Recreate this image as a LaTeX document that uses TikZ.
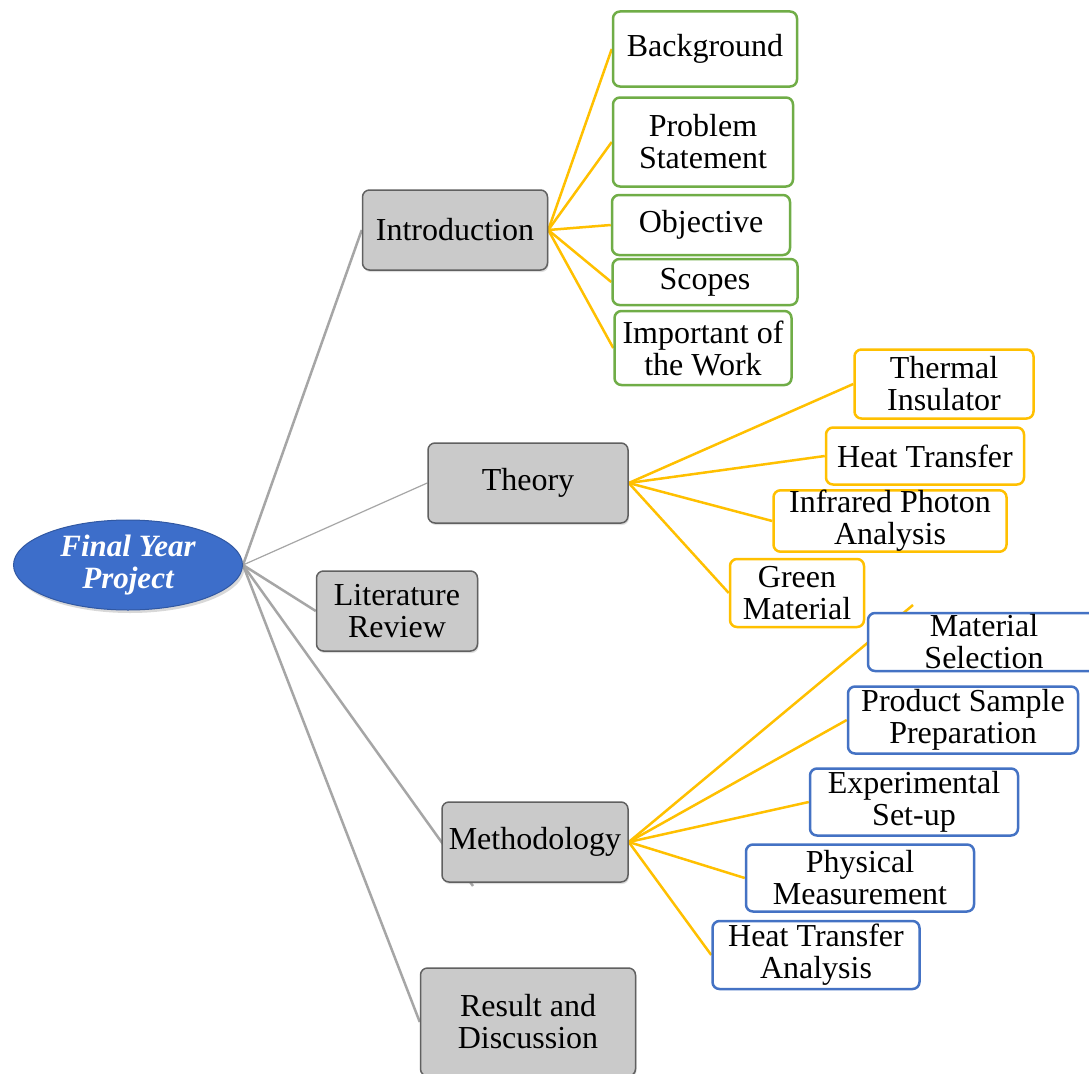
\documentclass[tikz,border=0pt]{standalone}
\usepackage{fontspec}
\setmainfont{Liberation Serif}
\usetikzlibrary{shapes.geometric,shadows}
\definecolor{Leaf}{HTML}{70AD47}
\definecolor{Gold}{HTML}{FFC000}
\definecolor{Navy}{HTML}{4472C4}
\definecolor{Stem}{HTML}{A6A6A6}
\definecolor{Slate}{HTML}{CACACA}
\definecolor{Royal}{HTML}{3D6ECA}
\pgfdeclarelayer{back}
\pgfsetlayers{back,main}
\tikzset{
  topic/.style={draw=gray!75!black,fill=Slate,rounded corners=7pt,line width=1.5pt,
    align=center,inner sep=0pt,drop shadow={opacity=.25,shadow xshift=1pt,shadow yshift=-2pt}},
  leafbox/.style={fill=white,rounded corners=7pt,line width=2.5pt,align=center,inner sep=0pt},
  introbox/.style={leafbox,draw=Leaf},
  theorybox/.style={leafbox,draw=Gold},
  methbox/.style={leafbox,draw=Navy},
  stem/.style={Stem,line width=2.5pt},
  twig/.style={Gold,line width=2.5pt}
}

\begin{document}
\begin{tikzpicture}[x=1pt,y=-1pt,font=\fontsize{32}{32}\selectfont]
  \useasboundingbox(0,0)rectangle(1089,1073);
  % root
  \node[ellipse,fill=Royal,draw=Royal!80!black,line width=1pt,text=white,align=center,
    minimum width=229pt,minimum height=90pt,inner sep=0pt,font=\fontsize{31}{32}\selectfont\bfseries\itshape,
    drop shadow={opacity=.3,shadow xshift=2pt,shadow yshift=-3pt}](fyp)at(128,565){Final Year\\Project};
  % main topics
  \node[topic,minimum width=185pt,minimum height=80pt](intro)at(455,230){Introduction};
  \node[topic,minimum width=200pt,minimum height=80pt](theory)at(528,483){Theory};
  \node[topic,minimum width=161pt,minimum height=80pt](lit)at(397,611){Literature\\Review};
  \node[topic,minimum width=186pt,minimum height=80pt](meth)at(535,842){Methodology};
  \node[topic,minimum width=215pt,minimum height=108pt](rd)at(528,1022){Result and\\Discussion};
  % introduction
  \node[introbox,minimum width=184pt,minimum height=75pt](bg)at(705,49){Background};
  \node[introbox,minimum width=180pt,minimum height=89pt](prob)at(703,142){Problem\\Statement};
  \node[introbox,minimum width=178pt,minimum height=60pt](obj)at(701,225){Objective};
  \node[introbox,minimum width=185pt,minimum height=46pt](scope)at(705,282){Scopes};
  \node[introbox,minimum width=177pt,minimum height=74pt](imp)at(703,348){Important of\\the Work};
  % theory
  \node[theorybox,minimum width=179pt,minimum height=69pt](ins)at(944,384){Thermal\\Insulator};
  \node[theorybox,minimum width=198pt,minimum height=57pt](heat)at(925,456){Heat Transfer};
  \node[theorybox,minimum width=233pt,minimum height=61pt](ir)at(890,521){Infrared Photon\\Analysis};
  \node[theorybox,minimum width=134pt,minimum height=68pt](green)at(797,593){Green\\Material};
  % methodology
  \node[methbox,minimum width=232pt,minimum height=58pt](sel)at(984,642){Material\\Selection};
  \node[methbox,minimum width=230pt,minimum height=67pt](prep)at(963,720){Product Sample\\Preparation};
  \node[methbox,minimum width=208pt,minimum height=67pt](setup)at(914,802){Experimental\\Set-up};
  \node[methbox,minimum width=228pt,minimum height=67pt](phys)at(860,878){Physical\\Measurement};
  \node[methbox,minimum width=207pt,minimum height=68pt](hta)at(816,955){Heat Transfer\\Analysis};
  \coordinate(methtail)at(473,886);
  \coordinate(seltail)at(913,605);
  \begin{pgfonlayer}{back}
    \fill[white](0,0)rectangle(1089,1073);
    \draw[stem](fyp.east)--(intro.west);
    \draw[Stem,line width=1.2pt](fyp.east)--(theory.west);
    \draw[stem](fyp.east)--(lit.west);
    \draw[stem](fyp.east)--(methtail);
    \draw[stem](fyp.east)--(rd.west);
    \foreach \n in {bg,prob,obj,scope,imp}\draw[twig](intro.east)--(\n.west);
    \foreach \n in {ins,heat,ir,green}\draw[twig](theory.east)--(\n.west);
    \draw[twig](meth.east)--(seltail);
    \foreach \n in {prep,setup,phys,hta}\draw[twig](meth.east)--(\n.west);
  \end{pgfonlayer}
\end{tikzpicture}
\end{document}
